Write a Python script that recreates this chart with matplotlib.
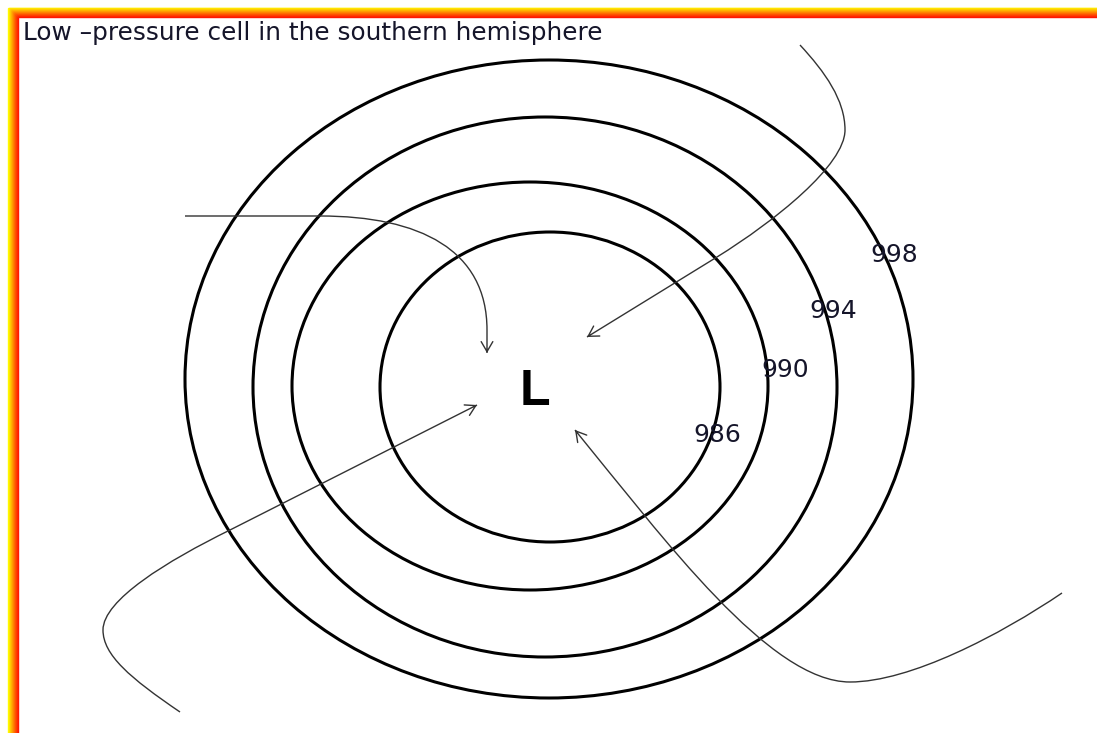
import numpy as np
import matplotlib
matplotlib.use("Agg")
import matplotlib.pyplot as plt
from matplotlib.patches import Ellipse, FancyArrowPatch, PathPatch
from matplotlib.path import Path
from matplotlib.colors import LinearSegmentedColormap

W, H = 1097, 733

title = "Low \u2013pressure cell in the southern hemisphere"

# isobars (pixel space of the drawing), outer to inner
isobar_cx = [549, 545, 530, 550]
isobar_cy = [379, 387, 386, 387]
isobar_w = [728, 584, 476, 340]
isobar_h = [638, 540, 408, 310]

# pressure labels
label_text = ["998", "994", "990", "986"]
label_x = [894, 833, 785, 717]
label_y = [262, 318, 377, 442]

# wind streamlines as bezier vertices, start -> arrow tip
# codes: M move, L line, C cubic bezier vertex
flow_nw_x = [185, 320, 420, 487, 487, 487]
flow_nw_y = [216, 216, 216, 250, 330, 353]
flow_nw_codes = "MLCCCL"
flow_ne_x = [800, 825, 845, 845, 845, 775, 717, 587]
flow_ne_y = [45, 72, 100, 130, 165, 221, 257, 337]
flow_ne_codes = "MCCCCCCL"
flow_sw_x = [180, 130, 103, 103, 103, 167, 230, 477]
flow_sw_y = [712, 678, 655, 630, 600, 561, 530, 405]
flow_sw_codes = "MCCCCCCL"
flow_se_x = [1062, 1000, 910, 850, 770, 665, 575]
flow_se_y = [593, 635, 682, 682, 682, 540, 430]
flow_se_codes = "MCCCCCC"

CODE = {"M": Path.MOVETO, "L": Path.LINETO, "C": Path.CURVE4}

fig = plt.figure(figsize=(W / 100, H / 100), dpi=100)
ax = fig.add_axes([0, 0, 1, 1])
ax.set_xlim(0, W)
ax.set_ylim(H, 0)
ax.axis("off")

# yellow -> red frame on the top and left
cmap = LinearSegmentedColormap.from_list("frame", ["#ffff00", "#ffb000", "#ff6000", "#ff1800"])
n = 11
for i in range(n):
    x0 = 7.5 + i * 11 / n
    y0 = 7.5 + i * 10 / n
    ax.plot([x0, x0, W], [H, y0, y0], color=cmap(i / (n - 1)), lw=1.0,
            solid_joinstyle="miter", solid_capstyle="butt")

for cx, cy, w, h in zip(isobar_cx, isobar_cy, isobar_w, isobar_h):
    ax.add_patch(Ellipse((cx, cy), w, h, fill=False, ec="black", lw=2.2))

flows = [(flow_nw_x, flow_nw_y, flow_nw_codes), (flow_ne_x, flow_ne_y, flow_ne_codes),
         (flow_sw_x, flow_sw_y, flow_sw_codes), (flow_se_x, flow_se_y, flow_se_codes)]
for xs, ys, cs in flows:
    verts = np.column_stack([xs, ys]).astype(float)
    path = Path(verts, [CODE[c] for c in cs])
    ax.add_patch(PathPatch(path, fill=False, ec="#333333", lw=1.0))
    # open arrow head along the end tangent
    tip = verts[-1]
    d = tip - verts[-2]
    d = d / np.linalg.norm(d)
    ax.add_patch(FancyArrowPatch(tip - 4 * d, tip, shrinkA=0, shrinkB=0,
                                 arrowstyle="->,head_length=0.6,head_width=0.35",
                                 mutation_scale=12, color="#333333", lw=1.0))

for t, x, y in zip(label_text, label_x, label_y):
    ax.text(x, y, t, ha="center", va="baseline", fontsize=18,
            family="DejaVu Sans", color="#15152a")

ax.text(535, 405, "L", ha="center", va="baseline", fontsize=36,
        family="Liberation Sans", weight="bold", color="black")

ax.text(23, 40, title, ha="left", va="baseline", fontsize=17.8,
        family="DejaVu Sans", color="#15152a")

fig.savefig("out.png", dpi=100)
